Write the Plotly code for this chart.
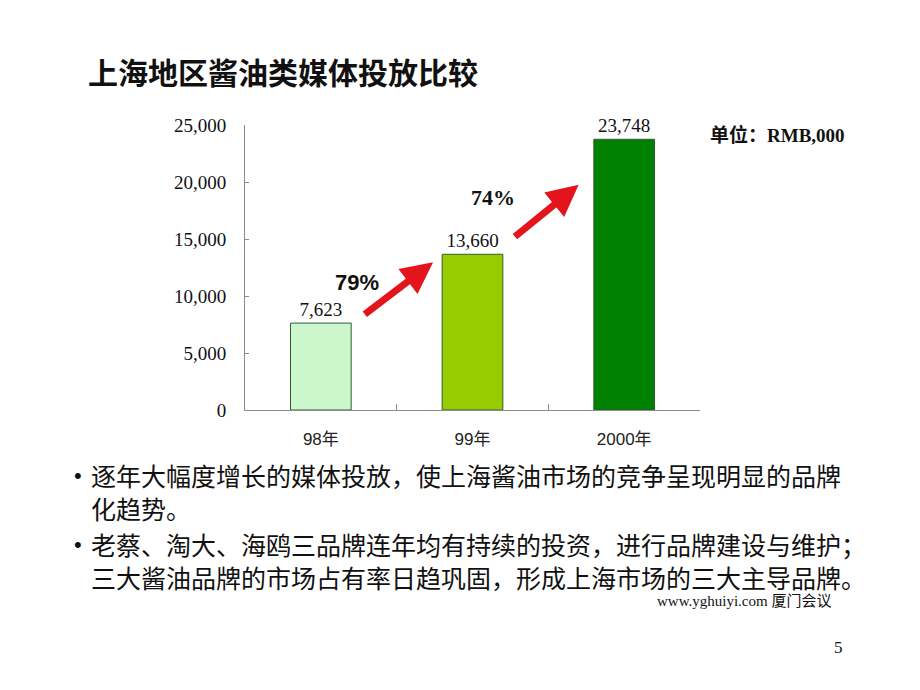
import plotly.graph_objects as go

# ---- data ----
categories = ["98年", "99年", "2000年"]
values = [7623, 13660, 23748]
value_labels = ["7,623", "13,660", "23,748"]
bar_colors = ["#ccf7cc", "#99cc00", "#008000"]
y_tickvals = [0, 5000, 10000, 15000, 20000, 25000]
y_ticktext = ["0", "5,000", "10,000", "15,000", "20,000", "25,000"]
growth_labels = ["79%", "74%"]

title_text = "上海地区酱油类媒体投放比较"
unit_text = "单位：RMB,000"
bullet_paragraphs = [
    ["逐年大幅度增长的媒体投放，使上海酱油市场的竞争呈现明显的品牌", "化趋势。"],
    ["老蔡、淘大、海鸥三品牌连年均有持续的投资，进行品牌建设与维护；",
     "三大酱油品牌的市场占有率日趋巩固，形成上海市场的三大主导品牌。"],
]
footer_text = "www.yghuiyi.com 厦门会议"
page_number = "5"

# ---- layout geometry (page body has an 8px margin) ----
OFF = 8
W, H = 920, 690
L, R, T, B = 245, 700, 125, 410  # desired screen pixels of the plot area


def px(x):
    return (x - L) / (R - L)


def py(y):
    return (B - y) / (B - T)


SERIF = "Liberation Serif, Noto Sans CJK SC, serif"
SANS_CJK = "Noto Sans CJK SC, sans-serif"

fig = go.Figure()
fig.add_trace(go.Bar(
    x=categories,
    y=values,
    width=0.4,
    marker=dict(color=bar_colors, line=dict(color="#2f5f2f", width=1)),
    text=value_labels,
    textposition="outside",
    textfont=dict(family=SERIF, size=19, color="#111"),
    cliponaxis=False,
    hoverinfo="skip",
))

annotations = []
arrow_specs = [
    # (tail_x, tail_y, head_x, head_y) in data coordinates (category index, value)
    (0.28, 8300, 0.74, 12950),
    (1.27, 15100, 1.70, 19750),
]
for (tx, ty, hx, hy) in arrow_specs:
    annotations.append(dict(
        x=hx, y=hy, ax=tx, ay=ty, xref="x", yref="y", axref="x", ayref="y",
        text="", showarrow=True, arrowhead=2, arrowsize=0.9, arrowwidth=7,
        arrowcolor="#e3141b",
    ))
annotations.append(dict(x=0.24, y=11150, xref="x", yref="y", text="<b>" + growth_labels[0] + "</b>",
                        showarrow=False, font=dict(family="Liberation Sans Narrow, Liberation Sans, sans-serif",
                                                   size=22, color="#111")))
annotations.append(dict(x=1.135, y=18600, xref="x", yref="y", text="<b>" + growth_labels[1] + "</b>",
                        showarrow=False, font=dict(family=SERIF, size=22, color="#111")))

annotations.append(dict(x=px(708), y=py(135), xref="paper", yref="paper", xanchor="left", yanchor="middle",
                        text="<b>" + unit_text + "</b>", showarrow=False,
                        font=dict(family="Liberation Serif, Noto Sans CJK SC", size=19, color="#111")))

para_centers = [491, 560]
bullet_ys = [475, 544]
for lines, yc, yb in zip(bullet_paragraphs, para_centers, bullet_ys):
    annotations.append(dict(x=px(78), y=py(yb), xref="paper", yref="paper", xanchor="center",
                            yanchor="middle", text="•", showarrow=False, borderpad=0,
                            font=dict(family="Liberation Sans, sans-serif", size=22, color="#111")))
    annotations.append(dict(x=px(90), y=py(yc), xref="paper", yref="paper", xanchor="left",
                            yanchor="middle", align="left", text="<br>".join(lines), showarrow=False,
                            borderpad=0, font=dict(family=SANS_CJK, size=25, color="#111")))

annotations.append(dict(x=px(832), y=py(601), xref="paper", yref="paper", xanchor="right", yanchor="middle",
                        text=footer_text, showarrow=False, borderpad=0,
                        font=dict(family=SERIF, size=15, color="#111")))
annotations.append(dict(x=px(838), y=py(647), xref="paper", yref="paper", xanchor="center", yanchor="middle",
                        text=page_number, showarrow=False,
                        font=dict(family=SERIF, size=17, color="#111")))

fig.update_layout(
    width=W, height=H,
    margin=dict(l=L - OFF, r=W - R + OFF, t=T - OFF, b=H - B + OFF, pad=0),
    paper_bgcolor="white", plot_bgcolor="white",
    showlegend=False,
    title=dict(text=title_text, x=(88 - OFF) / W, y=1 - (73 - OFF) / H, xref="container", yref="container",
               xanchor="left", yanchor="middle",
               font=dict(family=SANS_CJK, size=30, color="#111", weight=600)),
    xaxis=dict(
        type="category", showline=True, linecolor="#8c8c8c", linewidth=1,
        ticks="inside", ticklen=6, tickcolor="#8c8c8c", tickson="boundaries",
        showgrid=False, zeroline=False, ticklabelstandoff=14,
        tickfont=dict(family="Liberation Sans, Noto Sans CJK SC, sans-serif", size=17, color="#222"),
        fixedrange=True,
    ),
    yaxis=dict(
        range=[0, 25000], tickvals=y_tickvals, ticktext=y_ticktext,
        showline=True, linecolor="#8c8c8c", linewidth=1,
        ticks="inside", ticklen=4, tickcolor="#8c8c8c",
        showgrid=False, zeroline=False, ticklabelstandoff=14,
        tickfont=dict(family=SERIF, size=19, color="#111"),
        fixedrange=True,
    ),
    annotations=annotations,
)

fig.write_html("out.html")
